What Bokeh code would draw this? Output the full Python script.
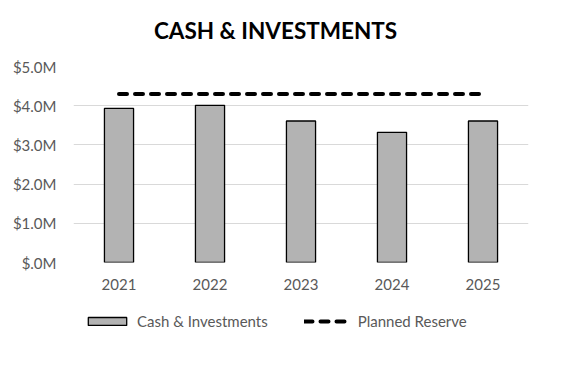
from bokeh.plotting import figure
from bokeh.layouts import column
from bokeh.models import ColumnDataSource, FactorRange, Range1d, Legend, LegendItem, CustomJSTickFormatter, FixedTicker
from bokeh.core.properties import value
from bokeh.embed import file_html
from bokeh.resources import INLINE

title_text = "CASH & INVESTMENTS"
years = ["2021", "2022", "2023", "2024", "2025"]
cash_millions = [3.93, 4.01, 3.61, 3.32, 3.61]
reserve_millions = [4.3, 4.3, 4.3, 4.3, 4.3]
y_ticks = [0, 1, 2, 3, 4, 5]

FONT = "Lato"
GRAY = "#595959"
BAR_STYLE = dict(fill_color="#b3b3b3", line_color="black", line_width=1.3)
LINE_STYLE = dict(line_color="black", line_width=4, line_dash="8 8", line_cap="round")
W = 553
BORDERS = dict(min_border_left=73, min_border_right=25)

src = ColumnDataSource(data=dict(year=years, cash=cash_millions, reserve=reserve_millions))

# title strip
tf = figure(width=W, height=50, x_range=Range1d(0, 1), y_range=Range1d(0, 1),
            output_backend="svg", toolbar_location=None,
            min_border_top=0, min_border_bottom=0, **BORDERS)
tf.axis.visible = False
tf.grid.visible = False
tf.outline_line_color = None
tf.text(x=[0.444], y=[0.4], text=[title_text], text_font=value(FONT), text_font_size="22.5px",
        text_font_style="bold", text_color="black", text_align="center", text_baseline="middle")

# main chart
p = figure(width=W, height=250, x_range=FactorRange(*years), y_range=Range1d(0, 5),
           output_backend="svg", toolbar_location=None,
           min_border_top=16, min_border_bottom=38, **BORDERS)
p.outline_line_color = None

p.vbar(x="year", top="cash", width=0.32, source=src, **BAR_STYLE)
p.line(x="year", y="reserve", source=src, **LINE_STYLE)

p.x_range.range_padding = 0
p.x_range.factor_padding = 0

p.yaxis.ticker = FixedTicker(ticks=y_ticks)
p.yaxis.formatter = CustomJSTickFormatter(code="return tick == 0 ? '$.0M' : '$' + tick.toFixed(1) + 'M';")
for ax in (p.xaxis[0], p.yaxis[0]):
    ax.axis_line_color = None
    ax.major_tick_line_color = None
    ax.minor_tick_line_color = None
    ax.major_label_text_font = FONT
    ax.major_label_text_font_size = "15px"
    ax.major_label_text_color = GRAY
p.yaxis.major_label_standoff = 11
p.xaxis.major_label_standoff = 10
p.xgrid.grid_line_color = None
p.ygrid.grid_line_color = "#d9d9d9"

# legend strip (separate figure so that the legend is not clipped);
# its renderers are hidden, only their legend glyphs are shown
lg = figure(width=W, height=76, x_range=FactorRange(*years), y_range=Range1d(0, 5),
            output_backend="svg", toolbar_location=None,
            min_border_top=0, min_border_bottom=0, **BORDERS)
lg.axis.visible = False
lg.grid.visible = False
lg.outline_line_color = None
lb = lg.vbar(x="year", top="cash", width=0.32, source=src, visible=False, **BAR_STYLE)
ll = lg.line(x="year", y="reserve", source=src, visible=False, **LINE_STYLE)
legend = Legend(items=[LegendItem(label="Cash & Investments", renderers=[lb]),
                       LegendItem(label="Planned Reserve", renderers=[ll])],
                orientation="horizontal", location=(10, 46),
                label_text_font=FONT, label_text_font_size="15px", label_text_color=GRAY,
                glyph_width=48, glyph_height=10, spacing=36, border_line_color=None,
                background_fill_alpha=0, padding=2, margin=0, label_standoff=6,
                inactive_fill_alpha=0)
lg.add_layout(legend, "center")

layout = column(tf, p, lg, spacing=0)
open("out.html", "w").write(file_html(layout, INLINE))
